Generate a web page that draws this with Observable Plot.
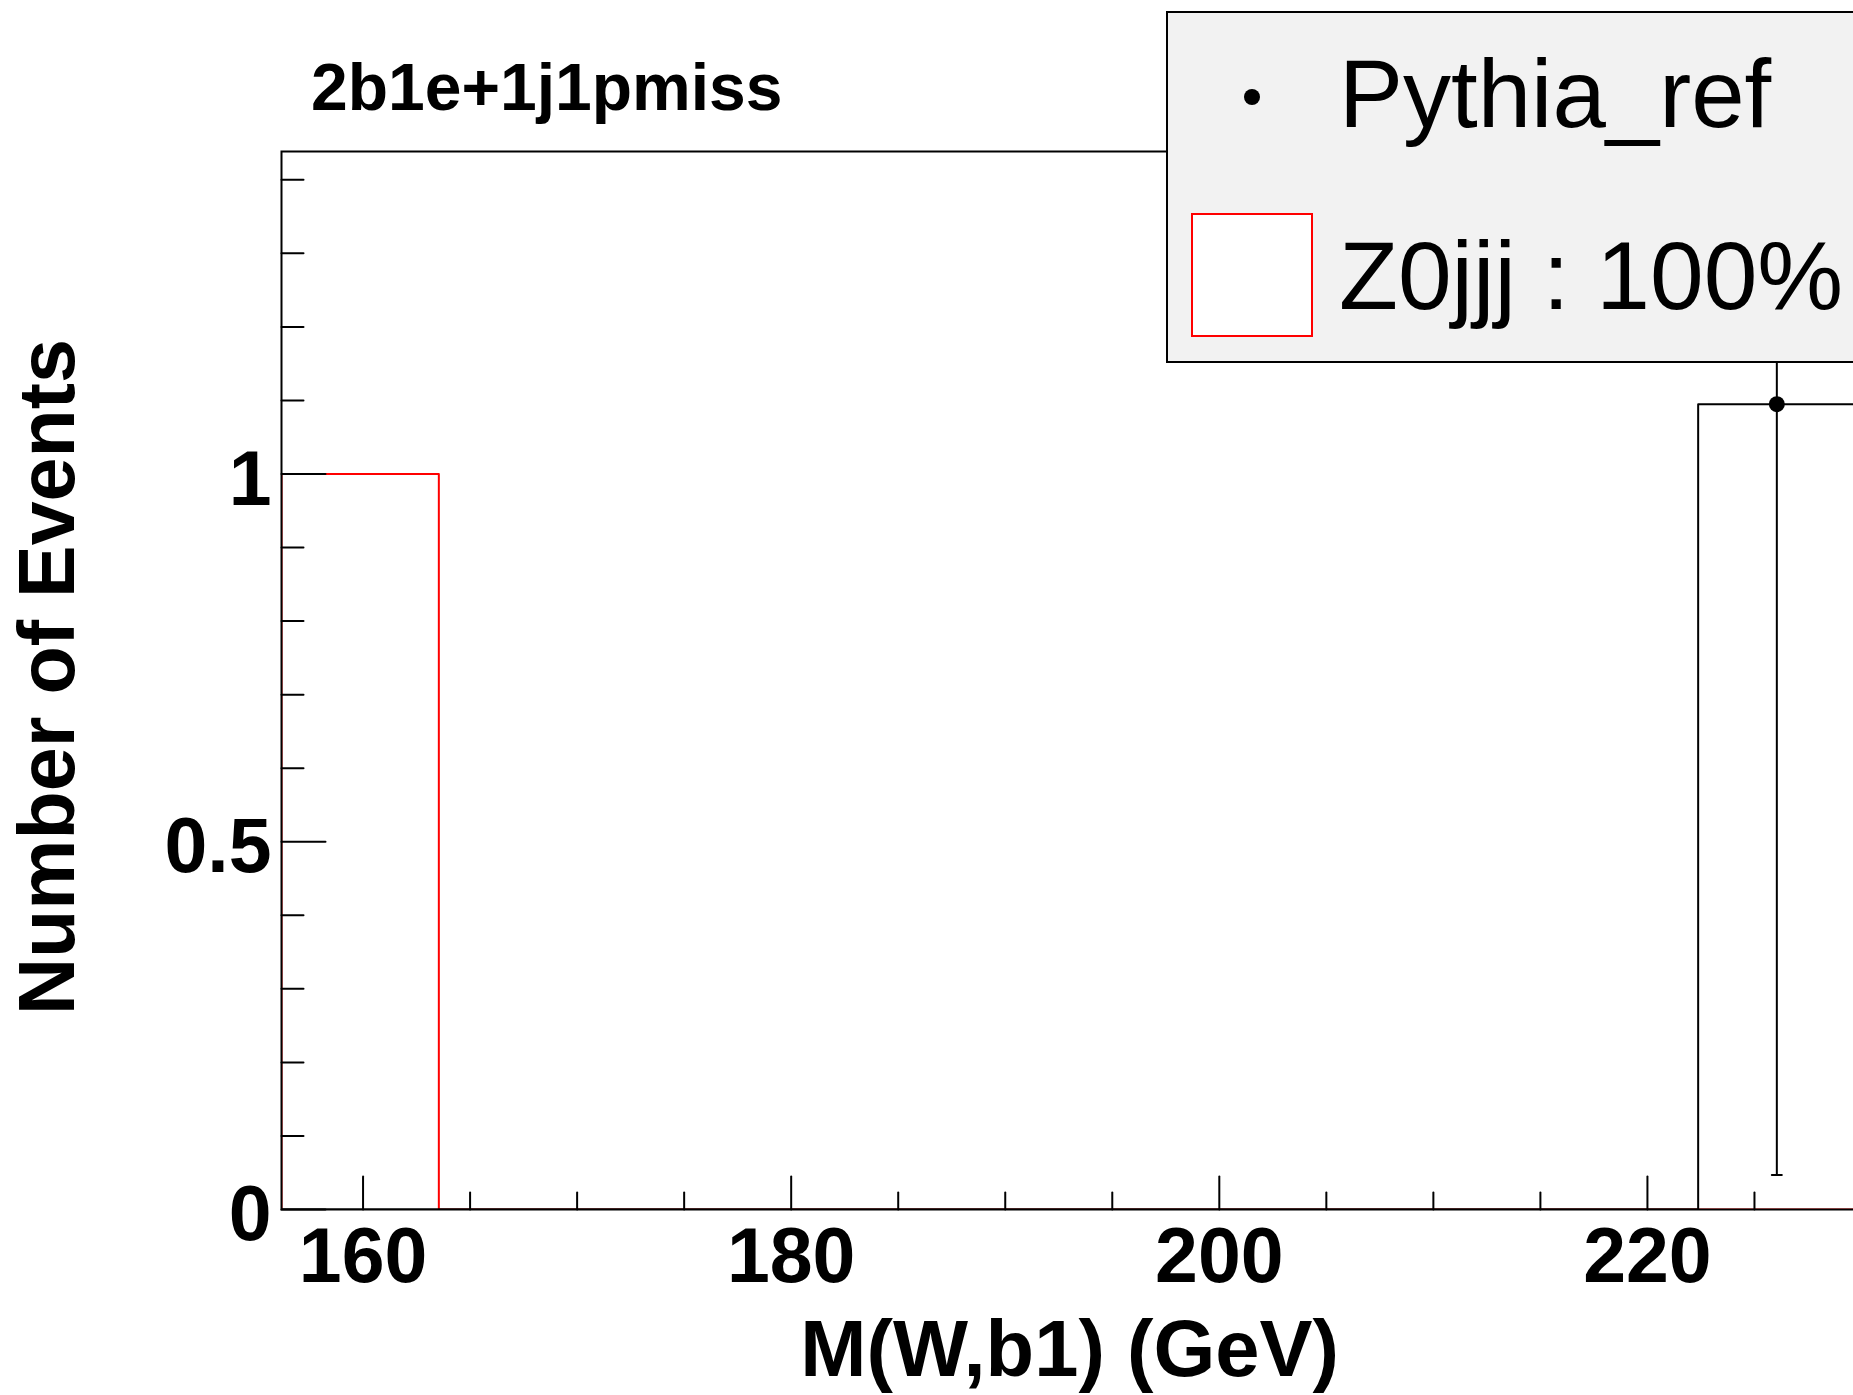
<!DOCTYPE html>
<html><head><meta charset="utf-8">
<script src="https://cdn.jsdelivr.net/npm/d3@7"></script>
<script src="https://cdn.jsdelivr.net/npm/@observablehq/plot@0.6"></script>
<style>
html,body{margin:0;padding:0;overflow:hidden;background:#fff;width:1853px;height:1395px;}
#wrap{position:relative;width:1853px;height:1395px;overflow:hidden;font-family:"Liberation Sans",Arial,Helvetica,sans-serif;color:#000;}
#chart{position:absolute;left:0;top:0;width:1856px;}
#chart svg{max-width:none !important;}
.abs{position:absolute;white-space:nowrap;line-height:1;}
</style></head><body><div id="wrap"><div id="chart"></div></div>
<script>
// ---- data ----
const binEdges = [156.19, 163.54, 170.89, 178.25, 185.60, 192.96, 200.31, 207.66, 215.02, 222.37, 229.72];
const z0jjjValues = [1, 0, 0, 0, 0, 0, 0, 0, 0, 0];
const pythiaValues = [0, 0, 0, 0, 0, 0, 0, 0, 0, 1.095];
const pythiaErrors = [0, 0, 0, 0, 0, 0, 0, 0, 0, 1.048];
const xMajorTicks = [160, 180, 200, 220];
const xMinorTicks = [165, 170, 175, 185, 190, 195, 205, 210, 215, 225];
const yMajorTicks = [0, 0.5, 1];
const yMinorTicks = [0.1, 0.2, 0.3, 0.4, 0.6, 0.7, 0.8, 0.9, 1.1, 1.2, 1.3, 1.4];
const yMax = 1.4385;
const titleText = "2b1e+1j1pmiss";
const xLabel = "M(W,b1) (GeV)";
const yLabel = "Number of Events";
const legendEntries = ["Pythia_ref", "Z0jjj : 100%"];

// step outline of a histogram
function steps(vals) {
  const pts = [{x: binEdges[0], y: 0}];
  vals.forEach((v, i) => pts.push({x: binEdges[i], y: v}));
  pts.push({x: binEdges[binEdges.length - 1], y: vals[vals.length - 1]});
  return pts;
}
const points = pythiaValues
  .map((v, i) => ({x: (binEdges[i] + binEdges[i + 1]) / 2, y: v, e: pythiaErrors[i]}))
  .filter(d => d.y > 0);

const lineShape = {draw(context, l) { context.moveTo(0, 0); context.lineTo(0, -l); }};
const font = "Liberation Sans, Arial, Helvetica, sans-serif";

const chart = Plot.plot({
  width: 1856, height: 1395,
  marginLeft: 281, marginRight: 1, marginTop: 151, marginBottom: 186,
  x: {domain: [binEdges[0], binEdges[binEdges.length - 1]]},
  y: {domain: [0, yMax]},
  style: {fontFamily: font, background: "transparent", color: "#000"},
  marks: [
    Plot.line(steps(z0jjjValues), {x: "x", y: "y", curve: "step-after", stroke: "#ff0000", strokeWidth: 2, clip: true}),
    Plot.line(steps(pythiaValues), {x: "x", y: "y", curve: "step-after", stroke: "#000", strokeWidth: 2, clip: true}),
    Plot.ruleX(points, {x: "x", y1: d => d.y - d.e, y2: d => d.y + d.e, stroke: "#000", strokeWidth: 2, clip: true}),
    Plot.vector(points, {x: "x", y: d => d.y - d.e, rotate: 90, length: 10, anchor: "middle", shape: lineShape, stroke: "#000", strokeWidth: 2}),
    Plot.dot(points, {x: "x", y: "y", r: 8, fill: "#000", stroke: null}),
    Plot.vector(xMajorTicks, {x: d => d, frameAnchor: "bottom", length: 33, anchor: "start", shape: lineShape, stroke: "#000", strokeWidth: 2}),
    Plot.vector(xMinorTicks, {x: d => d, frameAnchor: "bottom", length: 17, anchor: "start", shape: lineShape, stroke: "#000", strokeWidth: 2}),
    Plot.vector(yMajorTicks, {y: d => d, frameAnchor: "left", rotate: 90, length: 44, anchor: "start", shape: lineShape, stroke: "#000", strokeWidth: 2}),
    Plot.vector(yMinorTicks, {y: d => d, frameAnchor: "left", rotate: 90, length: 22, anchor: "start", shape: lineShape, stroke: "#000", strokeWidth: 2}),
    Plot.frame({stroke: "#000", strokeWidth: 2}),
    Plot.axisX(xMajorTicks, {tickSize: 0, tickPadding: 18, label: null, fontSize: 77, fontWeight: "bold", fill: "#000"}),
    Plot.axisY(yMajorTicks, {tickSize: 0, tickPadding: 10, label: null, fontSize: 77, fontWeight: "bold", fill: "#000", dy: 6, tickFormat: d => String(d)})
  ]
});
chart.style.maxWidth = "none";
document.getElementById("chart").appendChild(chart);

const wrap = document.getElementById("wrap");
function addText(txt, css) {
  const d = document.createElement("div");
  d.className = "abs";
  d.textContent = txt;
  Object.assign(d.style, css);
  wrap.appendChild(d);
  return d;
}
// title
addText(titleText, {left: "311px", top: "54px", fontSize: "66px", fontWeight: "bold"});
// x axis title (right aligned)
addText(xLabel, {left: "0px", width: "1339px", textAlign: "right", top: "1309px", fontSize: "79.5px", fontWeight: "bold"});
// y axis title (rotated)
addText(yLabel, {left: "45.5px", top: "676.5px", fontSize: "79px", fontWeight: "bold", transform: "translate(-50%,-50%) rotate(-90deg)"});

// legend
const leg = document.createElement("div");
Object.assign(leg.style, {position: "absolute", left: "1166px", top: "11px", width: "720px", height: "352px", background: "#f2f2f2", border: "2px solid #000", boxSizing: "border-box"});
wrap.appendChild(leg);
const dot = document.createElement("div");
Object.assign(dot.style, {position: "absolute", left: "1244px", top: "89px", width: "16px", height: "16px", borderRadius: "50%", background: "#000"});
wrap.appendChild(dot);
const box = document.createElement("div");
Object.assign(box.style, {position: "absolute", left: "1191px", top: "213px", width: "122px", height: "124px", background: "#fff", border: "2px solid #ff0000", boxSizing: "border-box"});
wrap.appendChild(box);
addText(legendEntries[0], {left: "1339px", top: "46px", fontSize: "96px"});
addText(legendEntries[1], {left: "1339px", top: "228px", fontSize: "96.5px"});
</script></body></html>
